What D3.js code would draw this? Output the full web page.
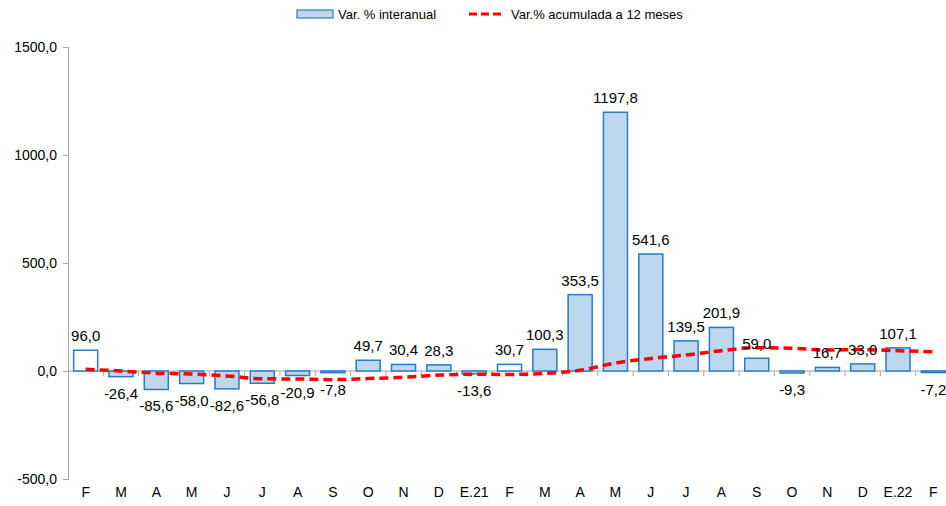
<!DOCTYPE html>
<html>
  <head>
    <meta charset="utf-8">
    <title>Var. % interanual</title>
    <script src="https://cdn.jsdelivr.net/npm/d3@7"></script>
    <style>
      body { margin: 0; background: #fff; font-family: "Liberation Sans", Arial, sans-serif; }
      .axis text { font-size: 14px; fill: #000; }
      .axis path, .axis line { stroke: #a6a6a6; }
      .label { font-size: 15px; fill: #000; text-anchor: middle; }
      .legend text { font-size: 13px; fill: #000; }
    </style>
  </head>
  <body>
    <svg id="chart" width="946" height="506"></svg>
    <script>
      // chart data
      var months = ["F", "M", "A", "M", "J", "J", "A", "S", "O", "N", "D", "E.21",
                    "F", "M", "A", "M", "J", "J", "A", "S", "O", "N", "D", "E.22", "F"];
      var interanual = [96.0, -26.4, -85.6, -58.0, -82.6, -56.8, -20.9, -7.8, 49.7, 30.4, 28.3, -13.6,
                        30.7, 100.3, 353.5, 1197.8, 541.6, 139.5, 201.9, 59.0, -9.3, 16.7, 33.0, 107.1, -7.2];
      var acumulada = [8, 0, -10, -14, -23, -36, -37, -40, -35, -29, -19, -15,
                       -16, -11, 3, 37, 58, 74, 94, 108, 105, 97, 99, 94, 89];
      var hollow = [0, 12]; // bars drawn without fill
      var yTicks = [-500, 0, 500, 1000, 1500];

      var svg = d3.select("#chart");
      var margin = { top: 47, left: 68, right: 951, bottom: 479 };
      var keys = months.map(function(d, i) { return i; });

      x = d3.scaleBand()
        .domain(keys)
        .range([margin.left, margin.right])
        .paddingInner(0.32)
        .paddingOuter(0.16);
      y = d3.scaleLinear()
        .domain([-500, 1500])
        .range([margin.bottom, margin.top]);
      var fmt = function(v) { return d3.format(".1f")(v).replace(".", ",").replace("\u2212", "-"); };

      // y axis
      svg.append("g")
        .attr("class", "axis")
        .attr("transform", "translate(" + margin.left + ",0)")
        .call(d3.axisLeft(y).tickValues(yTicks).tickFormat(fmt).tickSize(5).tickSizeOuter(5).tickPadding(6));

      // zero line with ticks between months
      var zero = svg.append("g").attr("class", "axis");
      zero.append("line")
        .attr("x1", margin.left).attr("x2", 946)
        .attr("y1", y(0)).attr("y2", y(0));
      zero.selectAll(".tk")
        .data(d3.range(1, months.length))
        .enter().append("line")
          .attr("x1", function(d) { return x(d) - x.step() * x.paddingInner() / 2; })
          .attr("x2", function(d) { return x(d) - x.step() * x.paddingInner() / 2; })
          .attr("y1", y(0)).attr("y2", y(0) + 5);

      // month labels
      svg.append("g")
        .attr("class", "axis")
        .selectAll("text")
          .data(months)
        .enter().append("text")
          .attr("x", function(d, i) { return x(i) + x.bandwidth() / 2; })
          .attr("y", 497)
          .attr("text-anchor", "middle")
          .text(function(d) { return d; });

      // bars
      svg.append("g")
        .selectAll("rect")
          .data(interanual)
        .enter().append("rect")
          .attr("x", function(d, i) { return x(i); })
          .attr("width", x.bandwidth())
          .attr("y", function(d) { return y(Math.max(d, 0)); })
          .attr("height", function(d) { return Math.abs(y(d) - y(0)); })
          .style("fill", function(d, i) { return hollow.indexOf(i) >= 0 ? "#ffffff" : "#bdd7ee"; })
          .style("stroke", "#2a7bc4")
          .style("stroke-width", 1.5);

      // accumulated line
      svg.append("path")
        .datum(acumulada)
        .attr("d", d3.line()
          .x(function(d, i) { return x(i) + x.bandwidth() / 2; })
          .y(function(d) { return y(d); })
          .curve(d3.curveMonotoneX))
        .style("fill", "none")
        .style("stroke", "#ff0000")
        .style("stroke-width", 3.5)
        .style("stroke-dasharray", "9,5");

      // value labels
      svg.append("g")
        .selectAll("text")
          .data(interanual)
        .enter().append("text")
          .attr("class", "label")
          .attr("x", function(d, i) { return x(i) + x.bandwidth() / 2; })
          .attr("y", function(d) { return d >= 0 ? y(d) - 9 : y(d) + 22; })
          .text(fmt);

      // legend
      var legend = svg.append("g").attr("class", "legend");
      legend.append("rect")
        .attr("x", 297).attr("y", 10).attr("width", 36).attr("height", 8)
        .style("fill", "#bdd7ee").style("stroke", "#2a7bc4").style("stroke-width", 1.2);
      legend.append("text").attr("x", 338).attr("y", 19).text("Var. % interanual");
      legend.append("line")
        .attr("x1", 469).attr("x2", 505).attr("y1", 14).attr("y2", 14)
        .style("stroke", "#ff0000").style("stroke-width", 3).style("stroke-dasharray", "8,4");
      legend.append("text").attr("x", 511).attr("y", 19).text("Var.% acumulada a 12 meses");
    </script>
  </body>
</html>
